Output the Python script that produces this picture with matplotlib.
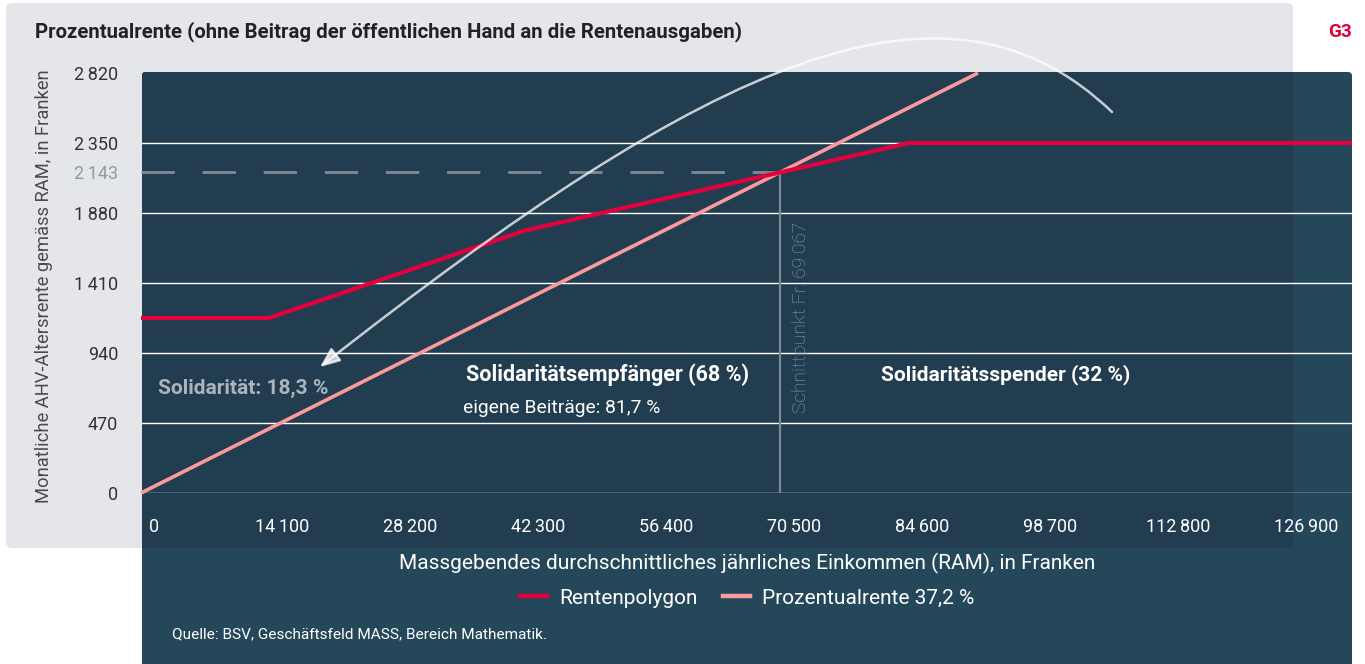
import matplotlib
matplotlib.use("Agg")
import matplotlib.pyplot as plt
from matplotlib.patches import FancyBboxPatch, FancyArrowPatch
from matplotlib.path import Path
from matplotlib.lines import Line2D
from matplotlib.transforms import ScaledTranslation

plt.rcParams['font.family'] = ['Roboto', 'DejaVu Sans']

# Rentenpolygon (monatliche Rente nach RAM)
ram_polygon = [0, 14100, 42300, 84600, 133400]
rente_polygon = [1175, 1175, 1762.5, 2350, 2350]

# Prozentualrente 37,2 %
ram_prozent = [0, 92200]
rente_prozent = [0, 2820]

# Schnittpunkt: Beschriftung und gezeichnete Lage
schnitt_text = "Schnittpunkt Fr.\u200969\u2009067"
schnitt_label = 2143
schnitt_ram = 70400
schnitt_rente = 2152

x_ticks = [0, 14100, 28200, 42300, 56400, 70500, 84600, 98700, 112800, 126900]
y_ticks = [0, 470, 940, 1410, 1880, 2350, 2820]

RED = '#e4003c'
PINK = '#fb9a9c'
GREY_LINE = '#7d8b95'


def fmt(v):
    return f"{v:,}".replace(",", "\u2009")


W, H = 1365, 664
fig = plt.figure(figsize=(W / 100, H / 100), dpi=100)
fig.patch.set_facecolor('white')
inch = fig.dpi_scale_trans

# Hintergrundflächen (Pixel -> Zoll)
fig.add_artist(FancyBboxPatch((0.06, (H - 548) / 100), 12.87, 5.45,
                              boxstyle="round,pad=0,rounding_size=0.06",
                              transform=inch, fc='#e5e6ea', ec='none', zorder=-10))
fig.add_artist(FancyBboxPatch((1.42, -0.4), 12.10, (H - 72) / 100 + 0.4,
                              boxstyle="round,pad=0,rounding_size=0.04",
                              transform=inch, fc='#25475a', ec='none', zorder=-9))
fig.add_artist(FancyBboxPatch((1.42, (H - 548) / 100), 11.51, 4.76,
                              boxstyle="round,pad=0,rounding_size=0.03",
                              transform=inch, fc='#223d4f', ec='none', zorder=-8))

ax = fig.add_axes([141 / W, 1 - 493 / H, 1211 / W, 420 / H])
ax.set_facecolor('none')
for s in ax.spines.values():
    s.set_visible(False)
ax.set_xlim(0, 133400)
ax.set_ylim(0, 2820)

for v in y_ticks[:-1]:
    ax.axhline(v, color='white', lw=1.0, zorder=1)

# Schnittpunkt
ax.plot([0, schnitt_ram], [schnitt_rente, schnitt_rente], color=GREY_LINE,
        lw=2, dashes=(12, 10), zorder=2, clip_on=False)
ax.plot([schnitt_ram, schnitt_ram], [0, schnitt_rente], color=GREY_LINE, lw=1.6, zorder=2)

ax.plot(ram_prozent, rente_prozent, color=PINK, lw=2.6, zorder=3, clip_on=False,
        solid_capstyle='butt')
ax.plot(ram_polygon, rente_polygon, color=RED, lw=3, zorder=4, clip_on=False,
        solid_capstyle='butt')

ax.set_xticks(x_ticks, [fmt(v) for v in x_ticks])
ax.set_yticks(y_ticks + [schnitt_rente], [fmt(v) for v in y_ticks] + [fmt(schnitt_label)])
ax.tick_params(axis='x', length=0, pad=18, labelcolor='white', labelsize=13)
ax.tick_params(axis='y', length=0, pad=16.5, labelcolor='#333333', labelsize=13)
for lbl in ax.get_yticklabels():
    if lbl.get_text() == fmt(schnitt_label):
        lbl.set_color('#8c9ca6')
for lbl in ax.get_xticklabels():
    lbl.set_transform(lbl.get_transform() + ScaledTranslation(0.13, 0, inch))

ax.set_ylabel("Monatliche AHV-Altersrente gemäss RAM, in Franken", fontsize=13.2,
              color='#4a4a4a', va='center')
ax.yaxis.set_label_coords((44 - 141) / 1211, (493 - 286) / 420)
ax.set_xlabel("Massgebendes durchschnittliches jährliches Einkommen (RAM), in Franken",
              fontsize=15, color='white', va='center')
ax.xaxis.set_label_coords((747 - 141) / 1211, (493 - 563) / 420)

# Beschriftungen im Diagramm
ax.text(schnitt_ram + 2300, 537, schnitt_text, rotation=90,
        ha='center', va='bottom', fontsize=13.8, color='#8c9ca6', fontweight='light')
ax.text(51440, 792, "Solidaritätsempfänger (68 %)", ha='center', va='center',
        fontsize=15.5, fontweight='bold', color='white')
ax.text(35470, 571, "eigene Beiträge: 81,7 %", ha='left', va='center',
        fontsize=13.9, color='white')
ax.text(95280, 792, "Solidaritätsspender (32 %)", ha='center', va='center',
        fontsize=15, fontweight='bold', color='white')
ax.text(1870, 705, "Solidarität: 18,3 %", ha='left', va='center',
        fontsize=15, fontweight='bold', color='#aab5bc')

# Bogenpfeil
pts = [(1112, 112), (946, -47), (713, 58), (320, 367)]
verts = [(x / W, 1 - y / H) for x, y in pts]
arc = Path(verts, [Path.MOVETO, Path.CURVE4, Path.CURVE4, Path.CURVE4])
fig.add_artist(FancyArrowPatch(path=arc, arrowstyle='-|>,head_length=12,head_width=5',
                               mutation_scale=1, color='white', alpha=0.75, lw=1.8,
                               transform=fig.transFigure, zorder=10))

# Titel
fig.text(35 / W, 1 - 32 / H,
         "Prozentualrente (ohne Beitrag der öffentlichen Hand an die Rentenausgaben)",
         ha='left', va='center', fontsize=14.7, fontweight='bold', color='#222222')
fig.text(1352 / W, 1 - 32 / H, "G3", ha='right', va='center', fontsize=13.7,
         fontweight='bold', color=RED)

handles = [Line2D([], [], color=RED, lw=3.2), Line2D([], [], color=PINK, lw=3.2)]
fig.legend(handles, ["Rentenpolygon", "Prozentualrente 37,2 %"], loc='center',
           bbox_to_anchor=(747 / W, 1 - 598 / H), ncol=2, frameon=False,
           fontsize=15, labelcolor='white', handlelength=1.3, handletextpad=0.6,
           columnspacing=1.2)

fig.text(172 / W, 1 - 634 / H, "Quelle: BSV, Geschäftsfeld MASS, Bereich Mathematik.",
         ha='left', va='center', fontsize=11.1, color='white')

fig.savefig("out.png", dpi=100)
